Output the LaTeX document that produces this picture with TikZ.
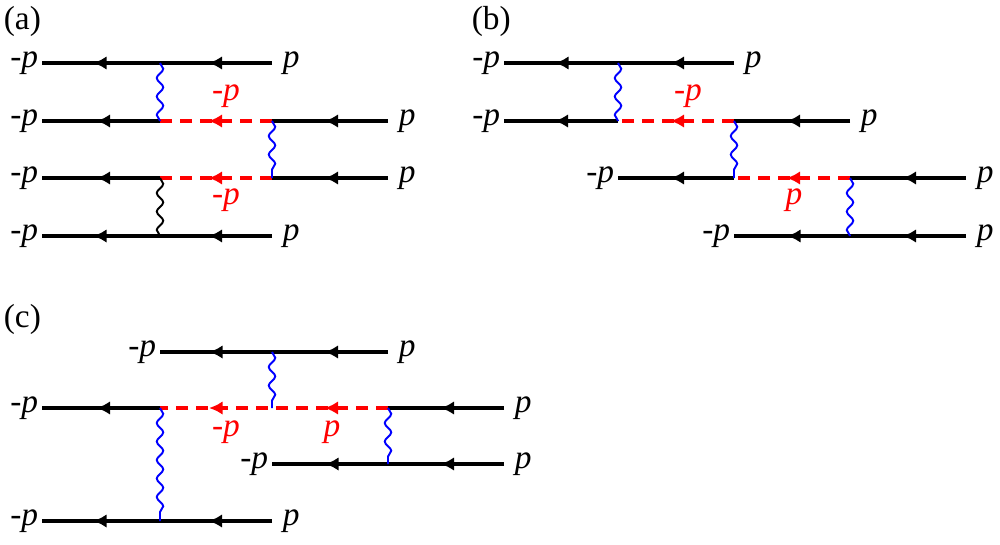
\documentclass[tikz,border=0pt]{standalone}
\usepackage{fontspec}
\setmainfont{Liberation Serif}
\usetikzlibrary{decorations.markings,decorations.pathmorphing,arrows.meta}
\begin{document}
\begin{tikzpicture}[x=0.02cm,y=-0.02cm,
  mk/.style={postaction={decorate,decoration={markings,mark=at position #1 with {\arrow{Latex[length=0.27cm,width=0.27cm]}}}}},
  fer/.style={line width=2.3pt,black},
  hole/.style={line width=2.3pt,red,dash pattern=on 0.25cm off 0.15cm},
  w/.style={line width=1.1pt,blue,decorate,decoration={snake,amplitude=0.065cm,segment length=0.37cm}},
  lb/.style={font=\fontsize{19}{22}\selectfont,inner sep=2pt},
  rl/.style={lb,text=red}]
\useasboundingbox (0,0) rectangle (1000,544);
\node[lb,anchor=north west] (la) at (0,2) {(a)};
\node[lb,anchor=north west] (lbb) at (468,2) {(b)};
\node[lb,anchor=north west] (lc) at (0,300) {(c)};
% ---------- (a)
\foreach \n/\x/\y in {a1l/42/63,a1r/272/63,a2l/42/121,a2m/160/121,a2n/272/121,a2r/388/121,
 a3l/42/178,a3m/160/178,a3n/272/178,a3r/388/178,a4l/42/236,a4m/160/236,a4r/272/236,a1m/160/63}
 \coordinate (\n) at (\x,\y);
\draw[fer,mk=1.27cm,mk=3.58cm] (a1r) -- (a1l);
\draw[fer,mk=1.27cm] (a2r) -- (a2n);
\draw[hole,mk=1.27cm] (a2n) -- (a2m);
\draw[fer,mk=1.27cm] (a2m) -- (a2l);
\draw[fer,mk=1.27cm] (a3r) -- (a3n);
\draw[hole,mk=1.27cm] (a3n) -- (a3m);
\draw[fer,mk=1.27cm] (a3m) -- (a3l);
\draw[fer,mk=1.27cm,mk=3.58cm] (a4r) -- (a4l);
\draw[w] (a1m) -- (a2m);
\draw[w] (a2n) -- (a3n);
\draw[w,black] (a3m) -- (a4m);
\foreach \c in {a1l,a2l,a3l,a4l} \node[lb,left] (t\c) at (\c) {-\textit{p}};
\foreach \c in {a1r,a2r,a3r,a4r} \node[lb,right,xshift=4pt] (t\c) at (\c) {\textit{p}};
\node[rl] (ra1) at (226,96) {-\textit{p}};
\node[rl] (ra2) at (226,200) {-\textit{p}};
% ---------- (b)
\foreach \n/\x/\y in {b1l/504/63,b1m/618/63,b1r/734/63,b2l/504/121,b2m/618/121,b2n/734/121,b2r/850/121,
 b3l/618/178,b3m/734/178,b3n/850/178,b3r/966/178,b4l/734/236,b4m/850/236,b4r/966/236}
 \coordinate (\n) at (\x,\y);
\draw[fer,mk=1.27cm,mk=3.58cm] (b1r) -- (b1l);
\draw[fer,mk=1.27cm] (b2r) -- (b2n);
\draw[hole,mk=1.27cm] (b2n) -- (b2m);
\draw[fer,mk=1.27cm] (b2m) -- (b2l);
\draw[fer,mk=1.27cm] (b3r) -- (b3n);
\draw[hole,mk=1.27cm] (b3n) -- (b3m);
\draw[fer,mk=1.27cm] (b3m) -- (b3l);
\draw[fer,mk=1.27cm,mk=3.58cm] (b4r) -- (b4l);
\draw[w] (b1m) -- (b2m);
\draw[w] (b2n) -- (b3m);
\draw[w] (b3n) -- (b4m);
\foreach \c in {b1l,b2l,b3l,b4l} \node[lb,left] (t\c) at (\c) {-\textit{p}};
\foreach \c in {b1r,b2r,b3r,b4r} \node[lb,right,xshift=4pt] (t\c) at (\c) {\textit{p}};
\node[rl] (rb1) at (688,96) {-\textit{p}};
\node[rl] (rb2) at (794,200) {\textit{p}};
% ---------- (c)
\foreach \n/\x/\y in {c1l/160/352,c1m/272/352,c1r/388/352,c2l/42/408,c2m/160/408,c2n/272/408,c2o/388/408,c2r/504/408,
 c3l/272/464,c3m/388/464,c3r/504/464,c4l/42/521,c4m/160/521,c4r/272/521}
 \coordinate (\n) at (\x,\y);
\draw[fer,mk=1.27cm,mk=3.58cm] (c1r) -- (c1l);
\draw[fer,mk=1.27cm] (c2r) -- (c2o);
\draw[hole,mk=1.27cm,mk=3.58cm] (c2o) -- (c2m);
\draw[fer,mk=1.27cm] (c2m) -- (c2l);
\draw[fer,mk=1.27cm,mk=3.58cm] (c3r) -- (c3l);
\draw[fer,mk=1.27cm,mk=3.58cm] (c4r) -- (c4l);
\draw[w] (c1m) -- (c2n);
\draw[w] (c2o) -- (c3m);
\draw[w] (c2m) -- (c4m);
\foreach \c in {c1l,c2l,c3l,c4l} \node[lb,left] (t\c) at (\c) {-\textit{p}};
\foreach \c in {c1r,c2r,c3r,c4r} \node[lb,right,xshift=4pt] (t\c) at (\c) {\textit{p}};
\node[rl] (rc1) at (226,432) {-\textit{p}};
\node[rl] (rc2) at (332,432) {\textit{p}};
\end{tikzpicture}
\end{document}
